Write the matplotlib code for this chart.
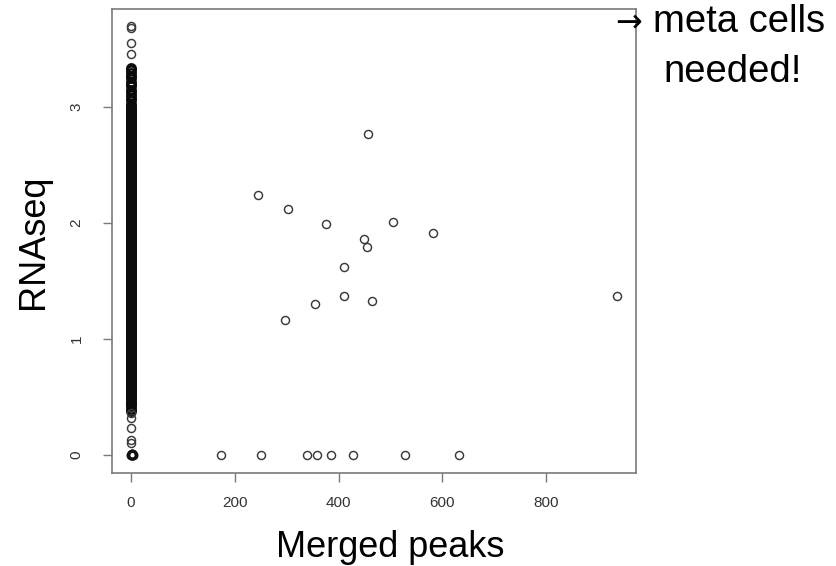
import matplotlib
matplotlib.use("Agg")
import matplotlib.pyplot as plt

plt.rcParams['font.family'] = ['Liberation Sans', 'DejaVu Sans']

# ---- data: scattered cells (Merged peaks, RNAseq) ----
scatter_peaks = [174, 251, 339, 359, 386, 427, 527, 632,
                 457, 245, 302, 376, 504, 581, 448, 455, 410, 410, 464, 354, 296, 936]
scatter_rna = [0, 0, 0, 0, 0, 0, 0, 0,
               2.77, 2.24, 2.12, 1.99, 2.01, 1.91, 1.86, 1.79, 1.62, 1.37, 1.33, 1.30, 1.16, 1.37]

# cells with zero merged peaks (the dense column at x = 0)
origin_peaks = [0, 1, 2, 3, 1, 2]
origin_rna = [0.00, 0.00, 0.00, 0.00, 0.01, 0.005]

sparse_low_rna = [0.10, 0.13, 0.23, 0.32, 0.36]
sparse_top_rna = [3.46, 3.55, 3.68, 3.70]

column_rna = [
    0.38, 0.40, 0.42, 0.44, 0.45, 0.47, 0.48,
    0.50, 0.51, 0.52, 0.53, 0.54, 0.55, 0.56, 0.57, 0.58, 0.59,
    0.60, 0.61, 0.62, 0.63, 0.64, 0.65, 0.66, 0.67, 0.68, 0.69,
    0.70, 0.71, 0.72, 0.73, 0.74, 0.75, 0.76, 0.77, 0.78, 0.79,
    0.80, 0.81, 0.82, 0.83, 0.84, 0.85, 0.86, 0.87, 0.88, 0.89,
    0.90, 0.91, 0.92, 0.93, 0.94, 0.95, 0.96, 0.97, 0.98, 0.99,
    1.00, 1.01, 1.02, 1.03, 1.04, 1.05, 1.06, 1.07, 1.08, 1.09,
    1.10, 1.11, 1.12, 1.13, 1.14, 1.15, 1.16, 1.17, 1.18, 1.19,
    1.20, 1.21, 1.22, 1.23, 1.24, 1.25, 1.26, 1.27, 1.28, 1.29,
    1.30, 1.31, 1.32, 1.33, 1.34, 1.35, 1.36, 1.37, 1.38, 1.39,
    1.40, 1.41, 1.42, 1.43, 1.44, 1.45, 1.46, 1.47, 1.48, 1.49,
    1.50, 1.51, 1.52, 1.53, 1.54, 1.55, 1.56, 1.57, 1.58, 1.59,
    1.60, 1.61, 1.62, 1.63, 1.64, 1.65, 1.66, 1.67, 1.68, 1.69,
    1.70, 1.71, 1.72, 1.73, 1.74, 1.75, 1.76, 1.77, 1.78, 1.79,
    1.80, 1.81, 1.82, 1.83, 1.84, 1.85, 1.86, 1.87, 1.88, 1.89,
    1.90, 1.91, 1.92, 1.93, 1.94, 1.95, 1.96, 1.97, 1.98, 1.99,
    2.00, 2.01, 2.02, 2.03, 2.04, 2.05, 2.06, 2.07, 2.08, 2.09,
    2.10, 2.11, 2.12, 2.13, 2.14, 2.15, 2.16, 2.17, 2.18, 2.19,
    2.20, 2.21, 2.22, 2.23, 2.24, 2.25, 2.26, 2.27, 2.28, 2.29,
    2.30, 2.31, 2.32, 2.33, 2.34, 2.35, 2.36, 2.37, 2.38, 2.39,
    2.40, 2.41, 2.42, 2.43, 2.44, 2.45, 2.46, 2.47, 2.48, 2.49,
    2.50, 2.51, 2.52, 2.53, 2.54, 2.55, 2.56, 2.57, 2.58, 2.59,
    2.60, 2.61, 2.62, 2.63, 2.64, 2.65, 2.66, 2.67, 2.68, 2.69,
    2.70, 2.71, 2.72, 2.73, 2.74, 2.75, 2.76, 2.77, 2.78, 2.79,
    2.80, 2.81, 2.82, 2.83, 2.84, 2.85, 2.86, 2.87, 2.88, 2.89,
    2.90, 2.91, 2.92, 2.93, 2.94, 2.95, 2.96, 2.97, 2.98, 2.99,
    3.01, 3.03, 3.06, 3.08, 3.10, 3.13, 3.15, 3.18, 3.20, 3.22,
    3.25, 3.27, 3.29, 3.32, 3.34,
]
column_peaks = [0] * len(column_rna)
sparse_low_peaks = [0] * len(sparse_low_rna)
sparse_top_peaks = [0] * len(sparse_top_rna)

x_ticks = [0, 200, 400, 600, 800]
y_ticks = [0, 1, 2, 3]

# ---- figure ----
W, H = 836, 566
fig = plt.figure(figsize=(W / 100, H / 100), dpi=100)
L, R, T, B = 112, 636, 9, 473
ax = fig.add_axes([L / W, 1 - B / H, (R - L) / W, (B - T) / H])

mk = dict(linestyle='none', marker='o', markersize=5.8, markerfacecolor='none',
          markeredgecolor='#3a3a3a', markeredgewidth=1.05)
mk_dense = dict(mk, markeredgecolor='#0a0a0a', markeredgewidth=1.8, markersize=6.0)
ax.plot(column_peaks, column_rna, **mk_dense)
ax.plot(sparse_low_peaks, sparse_low_rna, **mk)
ax.plot(sparse_top_peaks, sparse_top_rna, **mk)
ax.plot(origin_peaks, origin_rna, **dict(mk, markeredgecolor='#111111', markeredgewidth=1.4))
ax.plot(scatter_peaks, scatter_rna, **mk)

ax.set_xlim(-36.6, 972.8)
ax.set_ylim(-0.155, 3.845)
ax.set_xticks(x_ticks)
ax.set_xticklabels([str(v) for v in x_ticks])
ax.set_yticks(y_ticks)
ax.set_yticklabels([str(v) for v in y_ticks], rotation=90, va='center')

for s in ax.spines.values():
    s.set_color('#7a7a7a')
    s.set_linewidth(1.2)
ax.tick_params(axis='both', direction='out', length=6.5, width=1.0, color='#7a7a7a',
               labelsize=11, labelcolor='#333333')
ax.tick_params(axis='x', pad=10)
ax.tick_params(axis='y', pad=14)

# axis titles (placed as on the slide)
fig.text(390.5 / W, 1 - 557 / H, 'Merged peaks', fontsize=26, ha='center', va='baseline',
         color='black')
fig.text(43 / W, 1 - 241.5 / H, 'RNAseq', fontsize=26, rotation=90, rotation_mode='anchor',
         ha='center', va='baseline', color='black')

# annotation
fig.text(615 / W, 1 - 31 / H, '\u2192', fontsize=23, family='DejaVu Sans',
         ha='left', va='baseline', color='black')
fig.text(653 / W, 1 - 32 / H, 'meta cells', fontsize=27.5, ha='left', va='baseline',
         color='black')
fig.text(663 / W, 1 - 82 / H, 'needed!', fontsize=27.5, ha='left', va='baseline',
         color='black')

fig.savefig('out.png', dpi=100)
